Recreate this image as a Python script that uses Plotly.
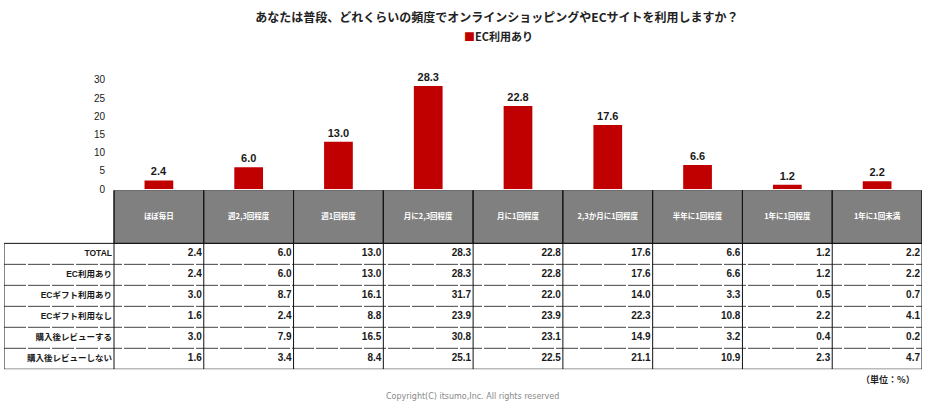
import plotly.graph_objects as go

W, H = 934, 408

title_text = "あなたは普段、どれくらいの頻度でオンラインショッピングやECサイトを利用しますか？"
series_name = "EC利用あり"
categories = ["ほぼ毎日", "週2,3回程度", "週1回程度", "月に2,3回程度", "月に1回程度",
              "2,3か月に1回程度", "半年に1回程度", "1年に1回程度", "1年に1回未満"]
bar_values = [2.4, 6.0, 13.0, 28.3, 22.8, 17.6, 6.6, 1.2, 2.2]

row_labels = ["TOTAL", "EC利用あり", "ECギフト利用あり", "ECギフト利用なし", "購入後レビューする", "購入後レビューしない"]
row_total = [2.4, 6.0, 13.0, 28.3, 22.8, 17.6, 6.6, 1.2, 2.2]
row_ec = [2.4, 6.0, 13.0, 28.3, 22.8, 17.6, 6.6, 1.2, 2.2]
row_gift_yes = [3.0, 8.7, 16.1, 31.7, 22.0, 14.0, 3.3, 0.5, 0.7]
row_gift_no = [1.6, 2.4, 8.8, 23.9, 23.9, 22.3, 10.8, 2.2, 4.1]
row_review_yes = [3.0, 7.9, 16.5, 30.8, 23.1, 14.9, 3.2, 0.4, 0.2]
row_review_no = [1.6, 3.4, 8.4, 25.1, 22.5, 21.1, 10.9, 2.3, 4.7]
ytick_vals = [0, 5, 10, 15, 20, 25, 30]
unit_text = "（単位：%）"
copyright_text = "Copyright(C) itsumo,Inc. All rights reserved"

rows = [row_total, row_ec, row_gift_yes, row_gift_no, row_review_yes, row_review_no]

JP = "Noto Sans CJK JP"
SANS = "Liberation Sans, Noto Sans CJK JP"
RED = "#C00000"
GRAY = "#808080"
TXT = "#1a1a1a"

# geometry (pixels)
COL_PX = (922 - 114) / 9.0
LBL = 110 / COL_PX            # label column width in column units
ROW_PX = 21.3
HDR = 54 / ROW_PX             # header height in row units
NCOL = len(categories)
NROW = len(rows)
X_LEFT = -0.5 - LBL
X_RIGHT = NCOL - 0.5
PAD = 2.0 / COL_PX


def px_x(x):
    return x / W


def px_y(y):
    return 1 - y / H


idx = list(range(NCOL))
fig = go.Figure()

# bars
fig.add_trace(go.Bar(
    x=idx, y=bar_values, name=series_name,
    marker=dict(color=RED, line=dict(width=0)), width=0.32,
    texttemplate="<b>%{y:.1f}</b>", textposition="outside", cliponaxis=False,
    textfont=dict(family=SANS, size=11, color=TXT),
    xaxis="x", yaxis="y", showlegend=False, hoverinfo="skip",
))

# table header fill (gray cells)
fig.add_trace(go.Bar(
    x=idx, y=[HDR] * NCOL, base=[-HDR] * NCOL, width=1.0,
    marker=dict(color=GRAY, line=dict(color="#222222", width=1)),
    xaxis="x", yaxis="y2", showlegend=False, hoverinfo="skip",
))

# header text
fig.add_trace(go.Scatter(
    x=idx, y=[-HDR / 2] * NCOL, mode="text",
    text=[f"<b>{c}</b>" for c in categories], textposition="middle center",
    textfont=dict(family=JP, size=7.5, color="white"),
    xaxis="x", yaxis="y2", showlegend=False, hoverinfo="skip", cliponaxis=False,
))

# row labels
fig.add_trace(go.Scatter(
    x=[-0.5 - PAD] * NROW, y=[i + 0.5 for i in range(NROW)], mode="text",
    text=[f"<b>{r}</b>" for r in row_labels], textposition="middle left",
    textfont=dict(family=SANS, size=8.5, color=TXT),
    xaxis="x", yaxis="y2", showlegend=False, hoverinfo="skip", cliponaxis=False,
))

# cell values
for i, vals in enumerate(rows):
    fig.add_trace(go.Scatter(
        x=[j + 0.5 - PAD for j in idx], y=[i + 0.5] * NCOL, mode="text",
        text=[f"<b>{v:.1f}</b>" for v in vals], textposition="middle left",
        textfont=dict(family=SANS, size=10, color=TXT),
        xaxis="x", yaxis="y2", showlegend=False, hoverinfo="skip", cliponaxis=False,
    ))

shapes = []
# horizontal grid lines of table
for k in range(NROW + 1):
    if k == 0:
        ln = dict(color="#111111", width=1)
    elif k == NROW:
        ln = dict(color="#777777", width=1.5)
    else:
        ln = dict(color="#444444", width=1, dash="22px,2px")
    shapes.append(dict(type="line", xref="x", yref="y2", x0=X_LEFT, x1=X_RIGHT, y0=k, y1=k, line=ln))
# vertical lines
shapes.append(dict(type="line", xref="x", yref="y2", x0=X_LEFT, x1=X_LEFT, y0=0, y1=NROW,
                   line=dict(color="#111111", width=1)))
for j in range(NCOL + 1):
    xv = j - 0.5
    shapes.append(dict(type="line", xref="x", yref="y2", x0=xv, x1=xv, y0=-HDR, y1=NROW,
                       line=dict(color="#111111", width=1)))

fig.update_layout(
    width=W, height=H, autosize=False,
    margin=dict(l=0, r=0, t=0, b=0),
    paper_bgcolor="white", plot_bgcolor="white",
    title=dict(text=f"<b>{title_text}</b>", x=px_x(497), xanchor="center",
               y=px_y(18), yanchor="middle",
               font=dict(family=JP, size=12, color="#222222")),
    showlegend=False,
    xaxis=dict(domain=[px_x(4), px_x(922)], range=[X_LEFT, X_RIGHT], anchor="y",
               showticklabels=False, showgrid=False, zeroline=False, showline=False, fixedrange=True),
    yaxis=dict(domain=[px_y(192), px_y(62.5)], range=[0, 35], tickvals=ytick_vals,
               anchor="free", position=px_x(114),
               showgrid=False, zeroline=False, showline=False,
               ticks="outside", ticklen=7, tickcolor="rgba(0,0,0,0)",
               tickfont=dict(family=SANS, size=10, color=TXT), fixedrange=True),
    yaxis2=dict(domain=[px_y(193 + 54 + ROW_PX * NROW), px_y(193)], range=[NROW, -HDR], anchor="x",
                showticklabels=False, showgrid=False, zeroline=False, showline=False, fixedrange=True),
    shapes=shapes,
    annotations=[
        dict(text=f"<span style='color:{RED}'>■</span><b>{series_name}</b>", x=px_x(498), y=px_y(37),
             xref="paper", yref="paper", xanchor="center", yanchor="middle", showarrow=False,
             font=dict(family=JP, size=11, color="#222222")),
        dict(text=f"<b>{unit_text}</b>", x=px_x(917), y=px_y(385), xref="paper", yref="paper",
             xanchor="right", yanchor="middle", showarrow=False,
             font=dict(family=JP, size=9, color="#222222")),
        dict(text=copyright_text, x=px_x(472), y=px_y(402), xref="paper", yref="paper",
             xanchor="center", yanchor="middle", showarrow=False,
             font=dict(family="DejaVu Sans", size=8, color="#888888")),
    ],
)

PAGE_FIX = "document.body.style.margin='0';document.body.style.overflow='hidden';"
fig.write_html("out.html", config={"displayModeBar": False, "responsive": False},
               post_script=PAGE_FIX)
